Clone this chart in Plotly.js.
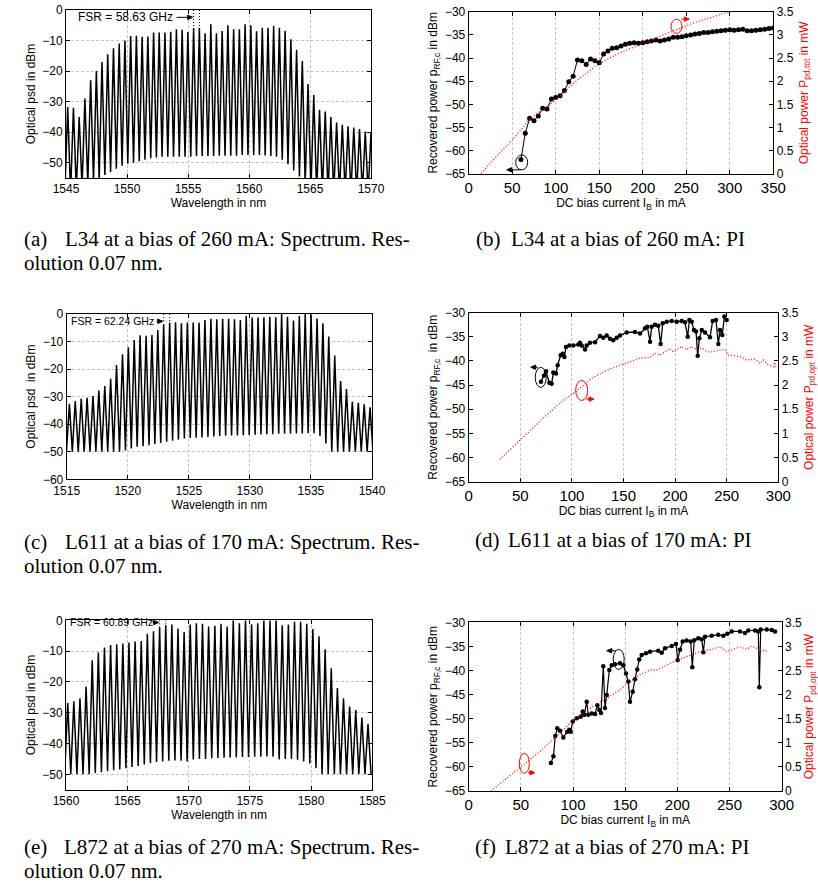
<!DOCTYPE html>
<html><head><meta charset="utf-8">
<script src="https://cdn.plot.ly/plotly-3.0.1.min.js"></script>
<style>html,body{margin:0;padding:0;background:#fff}#chart{width:818px;height:890px}</style>
</head><body><div id="chart"></div>
<script>
// ---------- (a) L34 spectrum ----------
const peakWlA = [1545.14,1545.61,1546.08,1546.55,1547.02,1547.49,1547.95,1548.42,1548.89,1549.36,1549.83,1550.30,1550.77,1551.24,1551.71,1552.18,1552.64,1553.11,1553.58,1554.05,1554.52,1554.99,1555.46,1555.93,1556.40,1556.87,1557.33,1557.80,1558.27,1558.74,1559.21,1559.68,1560.15,1560.62,1561.09,1561.56,1562.02,1562.49,1562.96,1563.43,1563.90,1564.37,1564.84,1565.31,1565.78,1566.25,1566.71,1567.18,1567.65,1568.12,1568.59,1569.06,1569.53,1570.00];
const peakA = [-31.8,-32,-35,-29,-23,-20,-17,-14.5,-12.5,-11,-10,-8.5,-8.4,-8.8,-8.7,-7.4,-7.4,-7.4,-7.1,-6.3,-6.5,-7.2,-6,-6,-7.6,-4.7,-7.6,-6.9,-5,-6.3,-6.3,-4.7,-5,-7,-5.8,-5.8,-5.2,-5.8,-6.8,-9.6,-13,-16.7,-24.2,-27.8,-32.7,-33.2,-35,-36.8,-37.6,-38.1,-38.5,-39,-39.8,-40.3];
const valleyA = [-60,-60,-59,-58,-57,-56,-55.5,-54,-53,-52,-51,-50.3,-50,-49.5,-49,-48.5,-48.3,-48,-48,-48,-48,-48,-48,-47.8,-47.8,-47.8,-47.8,-47.7,-47.7,-47.7,-47.7,-47.5,-47.5,-47.5,-47.5,-47.6,-47.8,-48,-49,-50.5,-52.5,-54.5,-57,-59,-60,-60,-60,-60,-60,-60,-60,-60,-60,-60,-60];

// ---------- (c) L611 spectrum ----------
const peakWlC = [1515.22,1515.70,1516.19,1516.67,1517.15,1517.63,1518.12,1518.60,1519.08,1519.57,1520.05,1520.53,1521.01,1521.50,1521.98,1522.46,1522.94,1523.43,1523.91,1524.39,1524.88,1525.36,1525.84,1526.32,1526.81,1527.29,1527.77,1528.26,1528.74,1529.22,1529.70,1530.19,1530.67,1531.15,1531.63,1532.12,1532.60,1533.08,1533.57,1534.05,1534.53,1535.01,1535.50,1535.98,1536.46,1536.95,1537.43,1537.91,1538.39,1538.88,1539.36,1539.84];
const peakC = [-32.6,-31.6,-30.7,-30.4,-29.8,-27.8,-26.1,-23.5,-18.5,-14.6,-12.1,-9.4,-7.7,-7.9,-7.6,-5.8,-3.7,-3.1,-3,-3.4,-3.1,-3.1,-3.1,-2.2,-1.7,-1.9,-1.7,-1.7,-1.9,-2.2,-0.6,-1.3,-1.3,-1.2,-1,-1.2,0,-1,-2.4,-0.7,0,-0.2,-1.6,-3.4,-8.2,-15.1,-24.3,-27.2,-31.9,-32.2,-32.8,-33.9];
const valleyC = [-50,-50,-50,-50,-50,-50,-50,-50,-50,-50,-49.5,-48.8,-48.2,-48,-47.6,-47.2,-46.8,-46.4,-46,-45.6,-45.2,-45,-44.9,-44.8,-44.6,-44.5,-44.3,-44.2,-44.1,-44.1,-44,-43.9,-43.8,-43.7,-43.6,-43.6,-43.5,-43.5,-43.5,-43.4,-43.4,-43.3,-43.3,-44.3,-47,-50,-50,-50,-50,-50,-50,-50,-50];

// ---------- (e) L872 spectrum ----------
const peakWlE = [1560.14,1560.64,1561.14,1561.64,1562.14,1562.64,1563.14,1563.64,1564.14,1564.64,1565.14,1565.64,1566.14,1566.64,1567.14,1567.64,1568.14,1568.64,1569.14,1569.64,1570.14,1570.64,1571.14,1571.64,1572.15,1572.65,1573.15,1573.65,1574.15,1574.65,1575.15,1575.65,1576.15,1576.65,1577.15,1577.65,1578.15,1578.65,1579.15,1579.65,1580.15,1580.65,1581.15,1581.65,1582.15,1582.65,1583.15,1583.65,1584.15,1584.65];
const peakE = [-26.9,-26.3,-25.3,-21.5,-13,-10.5,-8.8,-8,-7.8,-7.5,-7.2,-6.9,-6.7,-4.4,-3.6,-2.3,-1.6,-1.4,-2.7,-3.8,-1.4,-1,-1.1,-2,-1.8,-1.1,-2,0,-1,0,-1.3,-1,0,0,0,-1.6,-1.4,-0.5,-0.5,-1.1,-2.8,-5.2,-9.4,-15.6,-22,-25.3,-28,-29.1,-31.6,-33.7];
const valleyE = [-50,-50,-50,-50,-50,-49.6,-49.3,-49,-48.7,-48.4,-48,-47.6,-47.3,-46.8,-46.3,-46,-45.8,-45.6,-45.5,-45.6,-45.8,-45.2,-45,-45,-44.8,-44.7,-44.6,-44.5,-44.5,-44.4,-44.4,-44.3,-44.3,-44.2,-44.3,-45.2,-45,-45,-45.3,-45.8,-46.5,-48,-50,-50,-50,-50,-50,-50,-50,-50,-50];

// ---------- (b) L34 PI ----------
const biasB = [60,65,70,75,80,85,90,95,100,105,110,115,120,125,130,135,140,145,150,155,160,165,170,175,180,185,190,195,200,205,210,215,220,225,230,235,240,245,250,255,260,265,270,275,280,285,290,295,300,305,310,315,320,325,330,335,340,345,350];
const rfB = [-61.85,-56.2,-53.0,-53.5,-52.5,-50.8,-51,-48.8,-48.5,-48.1,-47,-45.1,-43.9,-40.4,-40.6,-41.4,-40.2,-40.6,-41,-39.1,-38.5,-37.9,-37.8,-37.4,-37,-36.8,-36.7,-36.8,-36.7,-36.5,-36.3,-36.1,-36.3,-36.1,-35.9,-35.5,-35.5,-35.4,-35.2,-35.0,-34.8,-34.7,-34.5,-34.5,-34.3,-34.2,-34.1,-34.0,-33.9,-34.0,-33.9,-33.8,-34.1,-34.1,-34.0,-33.9,-33.8,-33.6,-33.5];
const optBiasB = [12,20,30,40,50,60,70,80,90,100,110,120,130,140,150,160,170,180,190,200,210,220,230,240,250,260,270,280,290,300,305];
const optB = [-0.03,0.14,0.34,0.54,0.73,0.95,1.18,1.32,1.45,1.6,1.78,1.95,2.1,2.25,2.38,2.48,2.58,2.66,2.74,2.82,2.9,2.97,3.05,3.12,3.2,3.27,3.33,3.39,3.45,3.5,3.53];

// ---------- (d) L611 PI ----------
const biasD = [70.0,73.0,74.9,78.1,80.4,82.0,84.6,86.2,89.1,91.1,92.7,94.3,97.5,101.4,106.2,107.8,109.5,112.7,114.3,117.5,122.4,127.2,130.4,133.7,136.9,140.1,143.4,146.6,153.1,161.1,166.0,170.8,173.1,175.7,177.3,180.5,183.7,186.0,188.0,191.9,196.7,201.6,206.4,209.6,212.2,213.8,216.1,218.3,220.3,221.9,223.5,225.8,229.0,233.8,236.4,239.6,241.9,243.5,245.7,247.7,250.0];
const rfD = [-44.3,-43.0,-42.1,-44.5,-44.7,-42.4,-42.6,-40.9,-38.8,-38.5,-39.2,-37.1,-36.8,-36.8,-36.6,-36.2,-36.8,-37.6,-36.8,-36.2,-36.1,-34.8,-35.2,-34.7,-35.4,-35.7,-35.2,-34.7,-34.1,-34.0,-34.3,-33.2,-32.9,-36.0,-32.9,-32.5,-32.7,-36.5,-32.2,-31.9,-31.7,-31.9,-31.7,-32.0,-35.0,-31.5,-31.9,-33.6,-33.9,-38.9,-35.3,-33.6,-34.1,-35.1,-31.7,-31.5,-36.5,-33.6,-34.6,-30.8,-31.5];
const optBiasD = [30,50,70,90,104.6,119.2,133.7,146.6,159.5,166,175.7,180.5,185.4,190.2,195,198.3,206.4,211.2,216.1,220.9,225.8,230.6,237,243.5,248.4,251.6,254.8,262.9,269.4,277.4,282.3,285.5,290.3,295.2,296.8,297.7];
const optD = [0.46,0.87,1.27,1.66,1.88,2.14,2.31,2.41,2.50,2.56,2.57,2.66,2.62,2.69,2.76,2.69,2.80,2.73,2.80,2.73,2.77,2.69,2.69,2.73,2.74,2.62,2.62,2.59,2.52,2.54,2.45,2.52,2.42,2.38,2.47,2.35];

// ---------- (f) L872 PI ----------
const biasF = [78.8,81.2,83.0,84.9,87.5,90.7,94.5,96.4,97.8,99.7,103.5,107.3,109.3,110.8,113.1,114.6,117.9,121.1,123.3,125.2,126.8,129.0,130.6,132.3,134.8,137.1,140.2,145.0,148.2,150.8,153.0,154.6,157.2,159.4,161.6,163.5,165.8,169.9,173.8,181.7,185.0,188.2,194.6,198.7,200.3,202.5,205.1,208.9,212.8,214.3,216.2,220.1,223.3,224.9,226.5,232.9,239.2,244.1,247.9,252.1,260.0,264.8,268.0,274.4,277.6,278.5,279.9,285.6,290.4,293.6];
const rfF = [-59.2,-57.8,-53.6,-52.0,-52.5,-53.9,-52.7,-52.3,-52.7,-50.6,-49.9,-49.6,-48.5,-49.2,-46.5,-49.2,-48.9,-49.0,-47.2,-48.2,-48.8,-39.1,-47.8,-45.1,-39.9,-38.9,-38.7,-38.5,-38.9,-40.6,-42.3,-46.5,-44.4,-41.8,-39.8,-37.7,-36.8,-36.4,-36.1,-35.9,-36.3,-35.4,-34.9,-34.5,-37.8,-35.7,-34.0,-33.8,-34.0,-39.3,-33.7,-33.3,-33.5,-36.2,-33.0,-32.8,-32.6,-32.8,-32.4,-31.9,-31.9,-32.2,-31.7,-31.7,-31.9,-43.5,-31.5,-31.5,-31.6,-31.9];
const optBiasF = [21.4,40,60,68.3,80,100.3,115,132.3,145,154.6,164.2,173.8,180.2,188,196.1,209,221.7,231.3,240.9,247.3,253.6,260,266.5,271.3,276,279.9,284,285.6];
const optF = [0,0.33,0.68,0.82,1.05,1.47,1.7,1.92,2.1,2.27,2.41,2.51,2.51,2.6,2.68,2.79,2.89,2.93,2.99,2.89,2.94,2.99,2.94,3.01,2.96,2.89,2.93,2.89];

// ---------- text ----------
const captions = {
  a: ['(a)', 'L34 at a bias of 260 mA: Spectrum. Res-', 'olution 0.07 nm.'],
  b: ['(b)', 'L34 at a bias of 260 mA: PI'],
  c: ['(c)', 'L611 at a bias of 170 mA: Spectrum. Res-', 'olution 0.07 nm.'],
  d: ['(d)', 'L611 at a bias of 170 mA: PI'],
  e: ['(e)', 'L872 at a bias of 270 mA: Spectrum. Res-', 'olution 0.07 nm.'],
  f: ['(f)', 'L872 at a bias of 270 mA: PI']
};
const fsrLabels = {a: 'FSR = 58.63 GHz', c: 'FSR = 62.24 GHz', e: 'FSR = 60.89 GHz'};

// comb trace: valley - peak - valley ... (valleys midway between the read peaks)
function comb(wl, pk, vl) {
  const x = [], y = [];
  const n = wl.length;
  for (let j = 0; j <= n; j++) {
    let xv;
    if (j === 0) xv = wl[0] - (wl[1] - wl[0]) / 2;
    else if (j === n) xv = wl[n - 1] + (wl[n - 1] - wl[n - 2]) / 2;
    else xv = (wl[j - 1] + wl[j]) / 2;
    x.push(xv); y.push(vl[j]);
    if (j < n) { x.push(wl[j]); y.push(pk[j]); }
  }
  return {x, y};
}

const W = 818, H = 890;
const xd = (a, b) => [a / W, b / W];
const yd = (top, bot) => [1 - bot / H, 1 - top / H];
const FONT = 'Liberation Sans, Arial, sans-serif';

function baseAx(extra) {
  return Object.assign({
    showline: true, linecolor: '#000', linewidth: 1,
    ticks: 'inside', ticklen: 4, tickcolor: '#000', tickwidth: 1,
    zeroline: false, fixedrange: true,
    gridcolor: '#c4c4c4', griddash: '3px,2px', gridwidth: 1,
    tickfont: {family: FONT, size: 12, color: '#000'}
  }, extra);
}
function ttl(text, standoff, color) {
  return {text: text, standoff: standoff, font: {family: FONT, size: 12, color: color || '#000'}};
}

const cA = comb(peakWlA, peakA, valleyA);
const cC = comb(peakWlC, peakC, valleyC);
const cE = comb(peakWlE, peakE, valleyE);

const specLine = {color: '#000', width: 1.5};
const redLine = {color: '#ff0000', width: 1.3, dash: '1px,2px'};

const traces = [
  {x: cA.x, y: cA.y, xaxis: 'x', yaxis: 'y', mode: 'lines', line: specLine, hoverinfo: 'skip'},
  {x: biasB, y: rfB, xaxis: 'x2', yaxis: 'y2', mode: 'lines+markers', line: {color: '#000', width: 1}, marker: {color: '#000', size: 5}},
  {x: optBiasB, y: optB, xaxis: 'x2', yaxis: 'y3', mode: 'lines', line: redLine},
  {x: cC.x, y: cC.y, xaxis: 'x3', yaxis: 'y4', mode: 'lines', line: specLine, hoverinfo: 'skip'},
  {x: biasD, y: rfD, xaxis: 'x4', yaxis: 'y5', mode: 'lines+markers', line: {color: '#000', width: 1.3}, marker: {color: '#000', size: 4.5}},
  {x: optBiasD, y: optD, xaxis: 'x4', yaxis: 'y6', mode: 'lines', line: redLine},
  {x: cE.x, y: cE.y, xaxis: 'x5', yaxis: 'y7', mode: 'lines', line: specLine, hoverinfo: 'skip'},
  {x: biasF, y: rfF, xaxis: 'x6', yaxis: 'y8', mode: 'lines+markers', line: {color: '#000', width: 1.2}, marker: {color: '#000', size: 4.5}},
  {x: optBiasF, y: optF, xaxis: 'x6', yaxis: 'y9', mode: 'lines', line: redLine}
];

const rfTitle = 'Recovered power p<sub>RF,c</sub> in dBm';
const biasTitle = 'DC bias current I<sub>B</sub> in mA';

const layout = {
  width: W, height: H, margin: {l: 0, r: 0, t: 0, b: 0},
  paper_bgcolor: '#fff', plot_bgcolor: '#fff', showlegend: false,
  font: {family: FONT, size: 12, color: '#000'},
  // (a)
  xaxis: baseAx({domain: xd(66, 371), range: [1545, 1570], tick0: 1545, dtick: 5, anchor: 'y', mirror: 'ticks', showgrid: true, title: ttl('Wavelength in nm', 0)}),
  yaxis: baseAx({domain: yd(10, 178), range: [-55, 0], tick0: 0, dtick: 10, anchor: 'x', mirror: 'ticks', showgrid: true, title: ttl('Optical psd in dBm', 4)}),
  // (b)
  xaxis2: baseAx({domain: xd(468.7, 773.3), range: [0, 350], tick0: 0, dtick: 50, anchor: 'y2', mirror: 'ticks', showgrid: true, tickfont: {family: FONT, size: 15, color: '#000'}, title: ttl(biasTitle, 0)}),
  yaxis2: baseAx({domain: yd(11.7, 174), range: [-65, -30], tick0: -65, dtick: 5, anchor: 'x2', showgrid: false, title: ttl(rfTitle, 4)}),
  yaxis3: baseAx({range: [0, 3.5], tick0: 0, dtick: 0.5, anchor: 'x2', overlaying: 'y2', side: 'right', showgrid: false, title: ttl('Optical power P<sub>pd,tot</sub> in mW', 6, '#ff0000')}),
  // (c)
  xaxis3: baseAx({domain: xd(66.7, 372), range: [1515, 1540], tick0: 1515, dtick: 5, anchor: 'y4', mirror: 'ticks', showgrid: true, title: ttl('Wavelength in nm', 0)}),
  yaxis4: baseAx({domain: yd(314, 479.3), range: [-60, 0], tick0: 0, dtick: 10, anchor: 'x3', mirror: 'ticks', showgrid: true, title: ttl('Optical psd  in dBm', 4)}),
  // (d)
  xaxis4: baseAx({domain: xd(468.7, 778.3), range: [0, 300], tick0: 0, dtick: 50, anchor: 'y5', mirror: 'ticks', showgrid: true, tickfont: {family: FONT, size: 15, color: '#000'}, title: ttl(biasTitle, 0)}),
  yaxis5: baseAx({domain: yd(312.7, 481.7), range: [-65, -30], tick0: -65, dtick: 5, anchor: 'x4', showgrid: false, title: ttl('Recovered power p<sub>RF,c</sub>  in dBm', 4)}),
  yaxis6: baseAx({range: [0, 3.5], tick0: 0, dtick: 0.5, anchor: 'x4', overlaying: 'y5', side: 'right', showgrid: false, title: ttl('Optical power P<sub>pd,opt</sub> in mW', 6, '#ff0000')}),
  // (e)
  xaxis5: baseAx({domain: xd(66, 372.3), range: [1560, 1585], tick0: 1560, dtick: 5, anchor: 'y7', mirror: 'ticks', showgrid: true, title: ttl('Wavelength in nm', 0)}),
  yaxis7: baseAx({domain: yd(620.3, 789.7), range: [-55, 0], tick0: 0, dtick: 10, anchor: 'x5', mirror: 'ticks', showgrid: true, title: ttl('Optical psd in dBm', 4)}),
  // (f)
  xaxis6: baseAx({domain: xd(468.7, 781.7), range: [0, 300], tick0: 0, dtick: 50, anchor: 'y8', mirror: 'ticks', showgrid: true, tickfont: {family: FONT, size: 15, color: '#000'}, title: ttl(biasTitle, 0)}),
  yaxis8: baseAx({domain: yd(622.3, 791), range: [-65, -30], tick0: -65, dtick: 5, anchor: 'x6', showgrid: false, title: ttl(rfTitle, 4)}),
  yaxis9: baseAx({range: [0, 3.5], tick0: 0, dtick: 0.5, anchor: 'x6', overlaying: 'y8', side: 'right', showgrid: false, title: ttl('Optical power P<sub>pd,opt</sub> in mW', 6, '#ff0000')}),
  shapes: [],
  annotations: []
};

// arrow drawn as a shape: tip at (x, y) in data units, tail `len` pixels away (len>0: tail to the right)
function arrow(xr, yr, x, y, len, color) {
  const s = len > 0 ? 1 : -1, L = Math.abs(len), h = 5;
  const path = 'M0,0 L' + (s * h) + ',2.2 L' + (s * h) + ',-2.2 Z M' + (s * h) + ',0 L' + (s * L) + ',0';
  layout.shapes.push({type: 'path', xref: xr, yref: yr, xsizemode: 'pixel', ysizemode: 'pixel', xanchor: x, yanchor: y, path: path, fillcolor: color, line: {color: color, width: 1}});
}

// FSR markers (dotted lines at two neighbouring modes) + label + arrow
function fsr(xr, yr, wl, i, yBottom, label, xText, yText, size, arrowLen) {
  [wl[i], wl[i + 1]].forEach(v => layout.shapes.push({type: 'line', xref: xr, yref: yr, x0: v, x1: v, y0: 0, y1: yBottom, line: {color: '#000', width: 1, dash: '1px,2px'}}));
  layout.annotations.push({xref: xr, yref: yr, x: xText, y: yText, xanchor: 'left', yanchor: 'middle', text: label, showarrow: false, font: {family: FONT, size: size, color: '#000'}});
  arrow(xr, yr, wl[i] - 0.08, yText, -arrowLen, '#000');
}
fsr('x', 'y', peakWlA, 22, -6.5, fsrLabels.a, 1545.82, -2.4, 12, 16);
fsr('x3', 'y4', peakWlC, 16, -3, fsrLabels.c, 1515.19, -2.65, 10.5, 6);
fsr('x5', 'y7', peakWlE, 15, -2.5, fsrLabels.e, 1560.19, -0.7, 10.5, 6);

// ellipses + arrows indicating which axis each curve belongs to
function ellipse(xr, yr, cx, cy, w, h, color) {
  layout.shapes.push({type: 'circle', xref: xr, yref: yr, xsizemode: 'pixel', ysizemode: 'pixel', xanchor: cx, yanchor: cy, x0: -w / 2, x1: w / 2, y0: -h / 2, y1: h / 2, line: {color: color, width: 1}});
}
ellipse('x2', 'y2', 60.9, -62.5, 12, 15, '#000'); arrow('x2', 'y2', 43.7, -64.1, 14, '#000');
ellipse('x2', 'y2', 238.8, -33.15, 11, 14, '#ff0000'); arrow('x2', 'y2', 253.5, -31.6, -8, '#ff0000');
ellipse('x4', 'y5', 69.8, -43.4, 11, 20, '#000'); arrow('x4', 'y5', 60.1, -41.3, 7, '#000');
ellipse('x4', 'y5', 109.5, -46.1, 12, 20, '#ff0000'); arrow('x4', 'y5', 121.4, -47.9, -8, '#ff0000');
ellipse('x6', 'y8', 143.8, -37.7, 11, 20, '#000'); arrow('x6', 'y8', 132.3, -35.9, 9, '#000');
ellipse('x6', 'y8', 53.3, -59.25, 10, 20, '#ff0000'); arrow('x6', 'y8', 63.5, -61.2, -7, '#ff0000');

// captions
const SERIF = 'Liberation Serif, Times New Roman, serif';
function cap(px, py, text) {
  layout.annotations.push({xref: 'paper', yref: 'paper', x: px / W, y: 1 - py / H, xanchor: 'left', yanchor: 'middle', text: text, showarrow: false, font: {family: SERIF, size: 21, color: '#000'}});
}
cap(22, 239, captions.a[0]); cap(63, 239, captions.a[1]); cap(22, 263, captions.a[2]);
cap(474, 239, captions.b[0]); cap(509, 239, captions.b[1]);
cap(22, 542, captions.c[0]); cap(63, 542, captions.c[1]); cap(22, 566, captions.c[2]);
cap(473, 540, captions.d[0]); cap(506, 540, captions.d[1]);
cap(22, 847, captions.e[0]); cap(62, 847, captions.e[1]); cap(22, 871, captions.e[2]);
cap(473, 847, captions.f[0]); cap(503, 847, captions.f[1]);

Plotly.newPlot('chart', traces, layout, {displayModeBar: false, staticPlot: true});
</script></body></html>
